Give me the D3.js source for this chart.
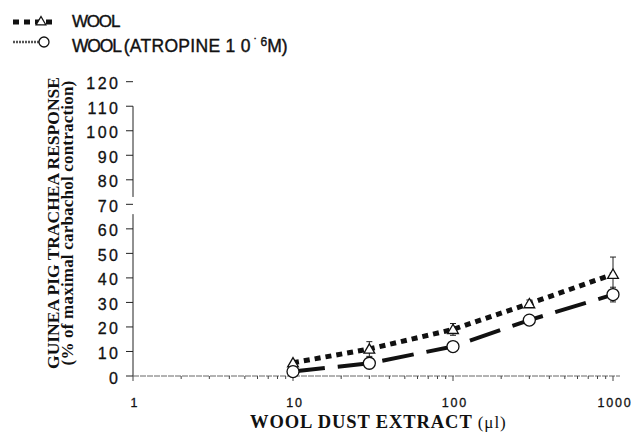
<!DOCTYPE html>
<html>
<head>
<meta charset="utf-8">
<script src="https://cdn.jsdelivr.net/npm/d3@7"></script>
<style>
  body { margin: 0; background: #fff; }
  svg text { fill: #111; }
</style>
</head>
<body>
<div id="chart"></div>
<script>
// values
let doses = [10, 30, 100, 300, 1000];
let wool = [5.4, 11, 19, 29.5, 41.5];
let woolErr = [0, 3, 2.4, 1.5, 7];
let atropine = [1.8, 5.2, 12, 22.8, 33.2];
let atropineErr = [0, 0, 0, 0, 3];
let yTicks = [0, 10, 20, 30, 40, 50, 60, 70, 80, 90, 100, 110, 120];
let xTicks = [1, 10, 100, 1000];

let W = 633, H = 433;

let svg = d3.select("#chart")
  .append("svg")
  .attr("width", W)
  .attr("height", H);

let x = d3.scaleLog().domain([1, 1000]).range([133, 613]);
let y = d3.scaleLinear().domain([0, 120]).range([376, 81.7]);

/* ------------------ y axis ------------------ */
// axis line has a break around 70 in the original scan
svg.append("line")
  .attr("x1", 133).attr("x2", 133)
  .attr("y1", y(0)).attr("y2", y(66))
  .attr("stroke", "#222").attr("stroke-width", 1);
svg.append("line")
  .attr("x1", 133).attr("x2", 133)
  .attr("y1", y(73)).attr("y2", y(110))
  .attr("stroke", "#222").attr("stroke-width", 1);

svg.selectAll(".ytick")
  .data(yTicks)
  .enter()
  .append("line")
  .attr("x1", 126).attr("x2", 133)
  .attr("y1", d => y(d)).attr("y2", d => y(d))
  .attr("stroke", "#222").attr("stroke-width", 1);

svg.selectAll(".ylab")
  .data(yTicks)
  .enter()
  .append("text")
  .attr("x", 120.5)
  .attr("y", d => y(d) + 7.5)
  .attr("text-anchor", "end")
  .style("font-family", "'Liberation Sans', Arial, sans-serif")
  .style("font-size", "16px")
  .style("letter-spacing", "2.5px")
  .style("stroke", "#111").style("stroke-width", "0.3px")
  .text(d => d);

/* ------------------ x axis ------------------ */
svg.append("line")
  .attr("x1", 133).attr("x2", 620)
  .attr("y1", 376).attr("y2", 376)
  .attr("stroke", "#666").attr("stroke-width", 1)
  .attr("stroke-dasharray", "6,1");

let minor = x.ticks();
svg.selectAll(".xtick")
  .data(minor)
  .enter()
  .append("line")
  .attr("x1", d => x(d)).attr("x2", d => x(d))
  .attr("y1", 376).attr("y2", d => xTicks.includes(d) ? 381 : 379)
  .attr("stroke", "#444").attr("stroke-width", 1);

svg.selectAll(".xlab")
  .data(xTicks)
  .enter()
  .append("text")
  .attr("x", d => x(d) + 2)
  .attr("y", 407)
  .attr("text-anchor", "middle")
  .style("font-family", "'Liberation Sans', Arial, sans-serif")
  .style("font-size", "12.5px")
  .style("letter-spacing", "1.8px")
  .style("stroke", "#111").style("stroke-width", "0.3px")
  .text(d => d);

/* ------------------ axis titles ------------------ */
let xt = svg.append("text")
  .attr("x", 250)
  .attr("y", 428)
  .style("font-family", "'Liberation Serif', 'Times New Roman', serif")
  .style("font-size", "18.5px")
  .style("letter-spacing", "0.9px")
  .style("font-weight", "bold");
xt.append("tspan").text("WOOL DUST EXTRACT ");
xt.append("tspan").style("font-weight", "normal").style("font-size", "17px").text("(μl)");

svg.append("text")
  .attr("transform", "translate(59,223) rotate(-90)")
  .attr("text-anchor", "middle")
  .style("font-family", "'Liberation Serif', 'Times New Roman', serif")
  .style("font-size", "17.5px")
  .style("font-weight", "bold")
  .text("GUINEA PIG TRACHEA RESPONSE");

svg.append("text")
  .attr("transform", "translate(73,223) rotate(-90)")
  .attr("text-anchor", "middle")
  .style("font-family", "'Liberation Serif', 'Times New Roman', serif")
  .style("font-size", "17px")
  .style("letter-spacing", "0.2px")
  .style("font-weight", "bold")
  .text("(% of maximal carbachol contraction)");

/* ------------------ series ------------------ */
let line = d3.line().x(d => x(d[0])).y(d => y(d[1]));

svg.append("path")
  .attr("d", line(d3.zip(doses, atropine)))
  .attr("fill", "none")
  .attr("stroke", "#111")
  .attr("stroke-width", 4)
  .attr("stroke-dasharray", "32,13");

svg.append("path")
  .attr("d", line(d3.zip(doses, wool)))
  .attr("fill", "none")
  .attr("stroke", "#111")
  .attr("stroke-width", 5)
  .attr("stroke-dasharray", "6,5");

// error bars
function errBars(vals, errs) {
  let g = svg.append("g");
  doses.forEach((d, i) => {
    if (!errs[i]) return;
    let cx = x(d);
    g.append("line")
      .attr("x1", cx).attr("x2", cx)
      .attr("y1", y(vals[i] - errs[i])).attr("y2", y(vals[i] + errs[i]))
      .attr("stroke", "#222").attr("stroke-width", 1);
    [vals[i] - errs[i], vals[i] + errs[i]].forEach(v => {
      g.append("line")
        .attr("x1", cx - 3).attr("x2", cx + 3)
        .attr("y1", y(v)).attr("y2", y(v))
        .attr("stroke", "#222").attr("stroke-width", 1);
    });
  });
}
errBars(wool, woolErr);
errBars(atropine, atropineErr);

// markers
svg.selectAll(".tri")
  .data(d3.zip(doses, wool))
  .enter()
  .append("path")
  .attr("d", d3.symbol().type(d3.symbolTriangle).size(50))
  .attr("transform", d => "translate(" + x(d[0]) + "," + (y(d[1]) + 1) + ")")
  .attr("fill", "#fff")
  .attr("stroke", "#111")
  .attr("stroke-width", 1.3);

svg.selectAll(".circ")
  .data(d3.zip(doses, atropine))
  .enter()
  .append("circle")
  .attr("cx", d => x(d[0]))
  .attr("cy", d => y(d[1]))
  .attr("r", 6)
  .attr("fill", "#fff")
  .attr("stroke", "#111")
  .attr("stroke-width", 1.3);

/* ------------------ legend ------------------ */
let leg = svg.append("g");
leg.append("line")
  .attr("x1", 13).attr("x2", 55).attr("y1", 22).attr("y2", 22)
  .attr("stroke", "#111").attr("stroke-width", 5)
  .attr("stroke-dasharray", "6,5");
leg.append("path")
  .attr("d", d3.symbol().type(d3.symbolTriangle).size(40))
  .attr("transform", "translate(41,22)")
  .attr("fill", "#fff").attr("stroke", "#111").attr("stroke-width", 1.3);

leg.append("line")
  .attr("x1", 13).attr("x2", 40).attr("y1", 42).attr("y2", 42)
  .attr("stroke", "#555").attr("stroke-width", 2.5)
  .attr("stroke-dasharray", "2,1");
leg.append("circle")
  .attr("cx", 44).attr("cy", 42).attr("r", 5)
  .attr("fill", "#fff").attr("stroke", "#111").attr("stroke-width", 1.3);

leg.append("text")
  .attr("x", 72).attr("y", 27)
  .style("font-family", "'Liberation Sans', Arial, sans-serif")
  .style("font-size", "17px")
  .style("letter-spacing", "-1.2px")
  .style("stroke", "#111").style("stroke-width", "0.4px")
  .text("WOOL");

let t2 = leg.append("text")
  .attr("x", 72).attr("y", 52)
  .style("font-family", "'Liberation Sans', Arial, sans-serif")
  .style("font-size", "17.5px")
  .style("stroke", "#111").style("stroke-width", "0.4px");
t2.append("tspan").style("letter-spacing", "-1.2px").text("WOOL ");
t2.append("tspan").style("letter-spacing", "0.3px").text("(ATROPINE 1 0");
t2.append("tspan").attr("dy", -6).style("font-size", "11px").text(" ˙ ");
t2.append("tspan").style("font-size", "12px").text("6");
t2.append("tspan").attr("dy", 6).text("M)");
</script>
</body>
</html>
